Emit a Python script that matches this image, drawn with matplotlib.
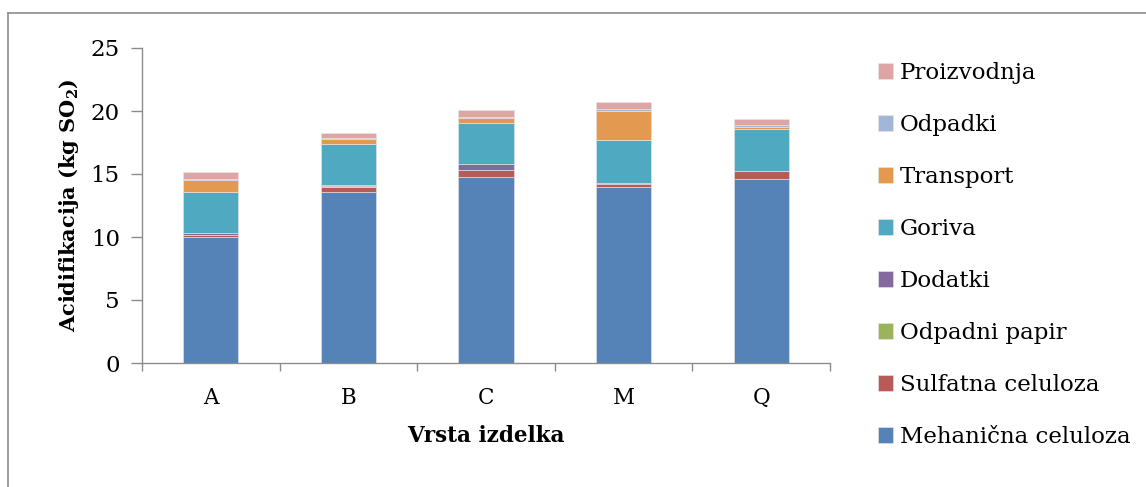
import matplotlib
matplotlib.use('Agg')
import matplotlib.pyplot as plt
import matplotlib.lines as mlines
import numpy as np

# data (kg SO2)
products = ['A', 'B', 'C', 'M', 'Q']
mehanicna = [10.0, 13.55, 14.74, 14.0, 14.6]
sulfatna = [0.17, 0.45, 0.56, 0.2, 0.6]
odpadni_papir = [0.02, 0.02, 0.02, 0.02, 0.02]
dodatki = [0.1, 0.1, 0.45, 0.1, 0.03]
goriva = [3.25, 3.25, 3.3, 3.35, 3.3]
transport = [1.0, 0.37, 0.37, 2.35, 0.2]
odpadki = [0.05, 0.1, 0.06, 0.15, 0.1]
proizvodnja = [0.6, 0.4, 0.58, 0.55, 0.55]

series = [
    ('Mehanična celuloza', mehanicna, '#5583B8'),
    ('Sulfatna celuloza', sulfatna, '#B85A57'),
    ('Odpadni papir', odpadni_papir, '#9BB45C'),
    ('Dodatki', dodatki, '#8468A0'),
    ('Goriva', goriva, '#4FA9C0'),
    ('Transport', transport, '#E3994F'),
    ('Odpadki', odpadki, '#A3B6D8'),
    ('Proizvodnja', proizvodnja, '#DDA5A3'),
]

plt.rcParams['font.family'] = 'DejaVu Serif'

fig = plt.figure(figsize=(11.46, 4.87), dpi=100)
ax = fig.add_axes([142/1146, 1 - 363/487, (830-142)/1146, (363-48)/487])

x = np.arange(len(products))
bottom = np.zeros(len(products))
handles = []
for name, vals, col in series:
    b = ax.bar(x, vals, 0.4, bottom=bottom, color=col, label=name,
               edgecolor='#e8e8e8', linewidth=0.4)
    bottom += np.array(vals)
    handles.append(b)

ax.set_xlim(-0.5, len(products) - 0.5)
ax.set_ylim(0, 25)
ax.set_yticks([0, 5, 10, 15, 20, 25])
ax.set_xticks(x)
ax.set_xticklabels(products)
ax.set_xticks(np.arange(len(products) + 1) - 0.5, minor=True)
ax.tick_params(axis='x', which='major', length=0, pad=17, labelsize=15.5)
ax.tick_params(axis='x', which='minor', length=6, color='#8c8c8c', width=1)
ax.tick_params(axis='y', length=8, color='#8c8c8c', width=1, labelsize=16.5, pad=8)

for s in ['top', 'right']:
    ax.spines[s].set_visible(False)
for s in ['left', 'bottom']:
    ax.spines[s].set_color('#8c8c8c')
    ax.spines[s].set_linewidth(1)

ax.set_xlabel('Vrsta izdelka', fontweight='bold', fontsize=15.5, labelpad=12)
ax.set_ylabel(r'Acidifikacija (kg SO$_\mathregular{2}$)', fontweight='bold', fontsize=15, labelpad=7)

leg = fig.legend(handles[::-1], [s[0] for s in series][::-1],
                 loc='upper left', bbox_to_anchor=(878/1146, 1 - 62/487),
                 frameon=False, fontsize=16.5, handlelength=0.65, handleheight=0.65,
                 handletextpad=0.3, labelspacing=1.31, borderpad=0, borderaxespad=0)

# outer chart border (only top and left visible in the crop)
fig.add_artist(mlines.Line2D([8/1146, 1], [1 - 13/487, 1 - 13/487],
                             transform=fig.transFigure, color='#8c8c8c', linewidth=1.2))
fig.add_artist(mlines.Line2D([8/1146, 8/1146], [0, 1 - 13/487],
                             transform=fig.transFigure, color='#8c8c8c', linewidth=1.2))

fig.savefig('out.png', dpi=100)
